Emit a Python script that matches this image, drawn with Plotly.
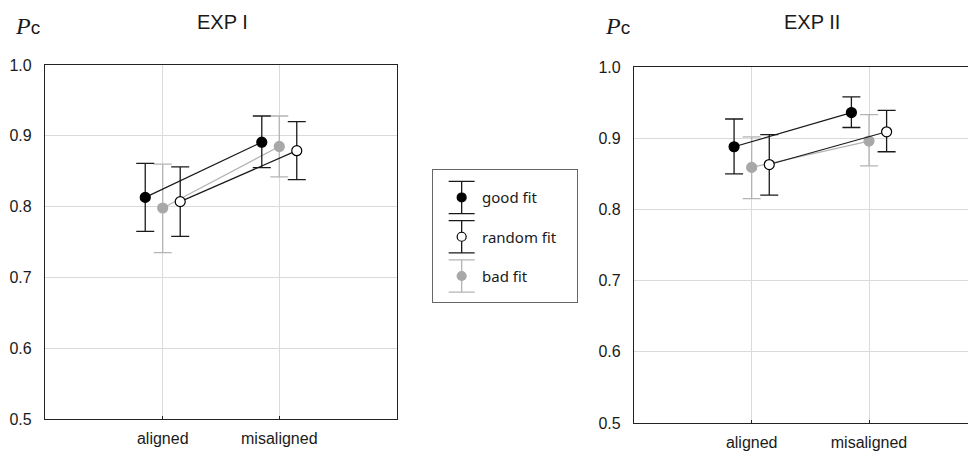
import plotly.graph_objects as go

# ---------------- data ----------------
categories = ["aligned", "misaligned"]
series_names = ["good fit", "random fit", "bad fit"]

exp1_good = [0.813, 0.891]
exp1_good_hi = [0.861, 0.928]
exp1_good_lo = [0.765, 0.855]
exp1_random = [0.807, 0.879]
exp1_random_hi = [0.856, 0.920]
exp1_random_lo = [0.758, 0.838]
exp1_bad = [0.798, 0.885]
exp1_bad_hi = [0.860, 0.928]
exp1_bad_lo = [0.735, 0.842]

exp2_good = [0.888, 0.936]
exp2_good_hi = [0.927, 0.958]
exp2_good_lo = [0.850, 0.915]
exp2_random = [0.863, 0.909]
exp2_random_hi = [0.905, 0.939]
exp2_random_lo = [0.820, 0.881]
exp2_bad = [0.859, 0.896]
exp2_bad_hi = [0.902, 0.933]
exp2_bad_lo = [0.815, 0.861]

y_ticks = [0.5, 0.6, 0.7, 0.8, 0.9, 1.0]

# ---------------- layout helpers ----------------
OFF = 8                      # page body margin
W, H = 976 - OFF, 452 - OFF  # figure size


def px(x):
    return (x - OFF) / W


def py(y):
    return 1 - (y - OFF) / H


TICK_FONT = dict(family="Liberation Sans, Arial, sans-serif", size=16, color="#1a1a1a")
styles = {
    "good fit": dict(fill="#000000", edge="#000000", line="#1a1a1a", err="#1a1a1a", off=-0.15),
    "random fit": dict(fill="#ffffff", edge="#000000", line="#1a1a1a", err="#1a1a1a", off=0.15),
    "bad fit": dict(fill="#a8a8a8", edge="#a8a8a8", line="#b4b4b4", err="#b4b4b4", off=0.0),
}

panels = [
    ("x", "y", {"good fit": (exp1_good, exp1_good_hi, exp1_good_lo),
                "random fit": (exp1_random, exp1_random_hi, exp1_random_lo),
                "bad fit": (exp1_bad, exp1_bad_hi, exp1_bad_lo)}),
    ("x2", "y2", {"good fit": (exp2_good, exp2_good_hi, exp2_good_lo),
                  "random fit": (exp2_random, exp2_random_hi, exp2_random_lo),
                  "bad fit": (exp2_bad, exp2_bad_hi, exp2_bad_lo)}),
]

fig = go.Figure()
draw_order = ["bad fit", "good fit", "random fit"]
for xa, ya, data in panels:
    for name in draw_order:
        vals, hi, lo = data[name]
        st = styles[name]
        xs = [i + st["off"] for i in range(len(categories))]
        fig.add_trace(go.Scatter(
            x=xs, y=vals, mode="lines+markers", xaxis=xa, yaxis=ya,
            name=name, showlegend=False, cliponaxis=False,
            line=dict(color=st["line"], width=1.2),
            marker=dict(size=10, color=st["fill"], line=dict(color=st["edge"], width=1.2)),
            error_y=dict(type="data", symmetric=False,
                         array=[h - v for h, v in zip(hi, vals)],
                         arrayminus=[v - l for v, l in zip(vals, lo)],
                         color=st["err"], thickness=1.3, width=9),
        ))

# legend panel (its own small axes)
for i, name in enumerate(series_names):
    st = styles[name]
    fig.add_trace(go.Scatter(
        x=[0], y=[i], mode="markers", xaxis="x3", yaxis="y3", showlegend=False,
        cliponaxis=False,
        marker=dict(size=9, color=st["fill"], line=dict(color=st["edge"], width=1.2)),
        error_y=dict(type="data", array=[0.41], color=st["err"], thickness=1.3, width=13),
    ))

annotations = []
for i, name in enumerate(series_names):
    annotations.append(dict(x=0.127, y=i, xref="x3", yref="y3", text=name, showarrow=False,
                            xanchor="left", yanchor="middle",
                            font=dict(family="Noto Sans, Open Sans, sans-serif", size=15, color="#1a1a1a")))

for cx, title, px0 in [(222, "EXP I", 13), (812, "EXP II", 603)]:
    annotations.append(dict(x=px(cx), y=py(22), xref="paper", yref="paper", text=title,
                            showarrow=False, xanchor="center", yanchor="middle",
                            font=dict(family="Liberation Sans, Arial, sans-serif", size=20, color="#1a1a1a")))
    annotations.append(dict(x=px(px0), y=py(26), xref="paper", yref="paper",
                            text="<span style='font-family:Liberation Serif'><i>P</i></span>"
                                 "<span style='font-size:19px'>c</span>",
                            showarrow=False, xanchor="left", yanchor="middle",
                            font=dict(family="Liberation Sans, Arial, sans-serif", size=24, color="#1a1a1a")))

common_x = dict(tickvals=list(range(len(categories))), ticktext=categories, showgrid=True,
                gridcolor="#dadada", gridwidth=1, zeroline=False, showline=True,
                linecolor="#222222", linewidth=1.2, ticks="inside", ticklen=3, tickcolor="#222222",
                tickfont=TICK_FONT, automargin=False, ticklabelstandoff=5)
common_y = dict(range=[0.5, 1.0], tickvals=y_ticks, tickformat=".1f", showgrid=True,
                gridcolor="#dadada", gridwidth=1, zeroline=False, showline=True,
                linecolor="#222222", linewidth=1.2, ticks="", tickfont=TICK_FONT,
                automargin=False, ticklabelstandoff=9)

fig.update_layout(
    width=W, height=H, template="none",
    paper_bgcolor="white", plot_bgcolor="white",
    margin=dict(l=0, r=0, t=0, b=0),
    showlegend=False,
    xaxis=dict(common_x, domain=[px(45), px(397)], range=[-1.01, 2.01], mirror=True, anchor="y"),
    yaxis=dict(common_y, domain=[py(419), py(65)], mirror=True, anchor="x"),
    xaxis2=dict(common_x, domain=[px(634), 1.0], range=[-1.003, 1.912], mirror=True, anchor="y2"),
    yaxis2=dict(common_y, domain=[py(423), py(67)], mirror=False, anchor="x2"),
    xaxis3=dict(domain=[px(433), px(577)], range=[-0.199, 0.801], showgrid=False, zeroline=False,
                showline=True, mirror=True, linecolor="#666666", linewidth=1,
                showticklabels=False, ticks="", anchor="y3", automargin=False),
    yaxis3=dict(domain=[py(302), py(170)], range=[2.662, -0.70], showgrid=False,
                zeroline=False, showline=True, mirror=True, linecolor="#666666", linewidth=1,
                showticklabels=False, ticks="", anchor="x3", automargin=False),
    annotations=annotations,
)

fig.write_html("out.html")
